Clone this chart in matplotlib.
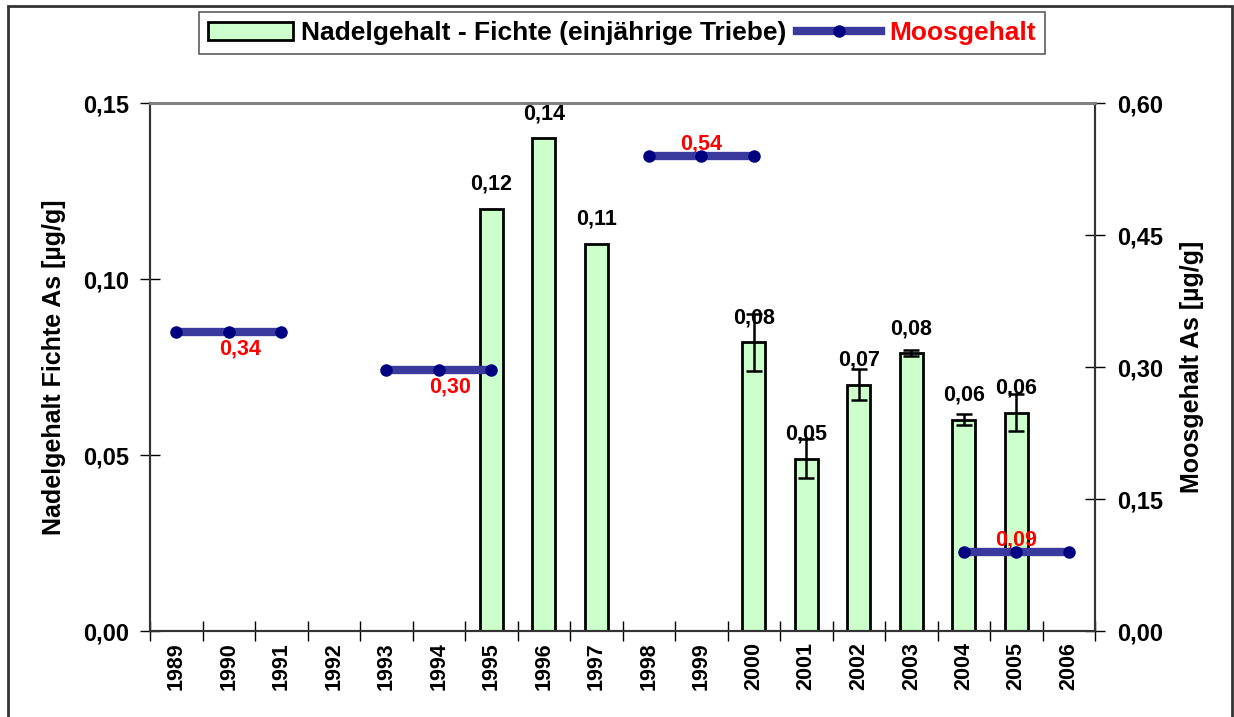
import numpy as np
import matplotlib
matplotlib.use('Agg')
import matplotlib.pyplot as plt
from matplotlib.patches import Rectangle, Patch
from matplotlib.lines import Line2D

plt.rcParams['font.family'] = ['Liberation Sans', 'DejaVu Sans']
plt.rcParams['font.weight'] = 'bold'

# data
years = [str(y) for y in range(1989, 2007)]
needle_years = ['1995', '1996', '1997', '2000', '2001', '2002', '2003', '2004', '2005']
needle_values = [0.120, 0.140, 0.110, 0.082, 0.049, 0.070, 0.079, 0.060, 0.062]
needle_err = [0.0, 0.0, 0.0, 0.008, 0.0055, 0.0043, 0.0008, 0.0016, 0.0052]
needle_labels = ['0,12', '0,14', '0,11', '0,08', '0,05', '0,07', '0,08', '0,06', '0,06']

moss_periods = [['1989', '1990', '1991'], ['1993', '1994', '1995'],
                ['1998', '1999', '2000'], ['2004', '2005', '2006']]
moss_values = [0.34, 0.297, 0.54, 0.09]
moss_labels = ['0,34', '0,30', '0,54', '0,09']
moss_label_below = [True, True, False, False]

fig = plt.figure(figsize=(12.34, 7.17), dpi=100)
ax = fig.add_axes([150 / 1234, 1 - 631 / 717, 945 / 1234, 528 / 717])
ax2 = ax.twinx()

# outer frame of the picture
fig.patches.append(Rectangle((8 / 1234, -0.05), 1224 / 1234, 1 - 5.5 / 717 + 0.05,
                             transform=fig.transFigure, fill=False,
                             edgecolor='#333333', linewidth=2, zorder=0))

idx = {y: i for i, y in enumerate(years)}
xb = np.array([idx[y] for y in needle_years])
ax.bar(xb, needle_values, width=0.44, color='#CCFFCC', edgecolor='black', linewidth=2, zorder=2)
errx = [x for x, e in zip(xb, needle_err) if e > 0]
erry = [v for v, e in zip(needle_values, needle_err) if e > 0]
erre = [e for e in needle_err if e > 0]
ax.errorbar(errx, erry, yerr=erre, fmt='none', ecolor='black', elinewidth=1.8,
            capsize=6, capthick=1.8, zorder=3)
for x, v, t in zip(xb, needle_values, needle_labels):
    ax.annotate(t, (x, v), xytext=(0, 10), textcoords='offset points', ha='center',
                va='bottom', fontsize=15.5, fontweight='bold', zorder=5)

for per, v, t, below in zip(moss_periods, moss_values, moss_labels, moss_label_below):
    xs = [idx[y] for y in per]
    ax2.plot(xs, [v] * len(xs), color='#3A3A9E', linewidth=6, solid_capstyle='butt',
             marker='o', markersize=8, markerfacecolor='#000080',
             markeredgecolor='#000080', zorder=4)
    if below:
        ax2.annotate(t, (xs[1], v), xytext=(8, -5), textcoords='offset points',
                     ha='center', va='top', color='red', fontsize=15.5, fontweight='bold')
    else:
        ax2.annotate(t, (xs[1], v), xytext=(0, 1), textcoords='offset points',
                     ha='center', va='bottom', color='red', fontsize=15.5, fontweight='bold')

ax.set_xlim(-0.5, len(years) - 0.5)
ax.set_ylim(0, 0.15)
ax2.set_ylim(0, 0.60)
ax.set_zorder(ax2.get_zorder() - 1)
ax.patch.set_visible(False)

ax.set_yticks([0, 0.05, 0.10, 0.15])
ax.set_yticklabels(['0,00', '0,05', '0,10', '0,15'], fontsize=17, fontweight='bold')
ax2.set_yticks([0, 0.15, 0.30, 0.45, 0.60])
ax2.set_yticklabels(['0,00', '0,15', '0,30', '0,45', '0,60'], fontsize=17, fontweight='bold')
ax.tick_params(axis='y', direction='inout', length=14, width=1, pad=8)
ax2.tick_params(axis='y', direction='inout', length=14, width=1, pad=9)

ax.set_xticks(np.arange(len(years) + 1) - 0.5)
ax.set_xticklabels([])
ax.set_xticks(np.arange(len(years)), minor=True)
ax.set_xticklabels(years, minor=True, rotation=90, fontsize=15.5, fontweight='bold')
ax.tick_params(axis='x', which='major', direction='inout', length=14, width=1)
ax.tick_params(axis='x', which='minor', length=0, pad=8)

ax.set_ylabel('Nadelgehalt Fichte As [µg/g]', fontsize=18, fontweight='bold', labelpad=12)
ax2.set_ylabel('Moosgehalt As [µg/g]', fontsize=18, fontweight='bold', labelpad=12)

for a in (ax, ax2):
    a.spines['top'].set_color('#808080')
    a.spines['top'].set_linewidth(2)
    a.spines['left'].set_color('#333333')
    a.spines['right'].set_color('#333333')
    a.spines['bottom'].set_color('#333333')
    a.spines['left'].set_linewidth(1.5)
    a.spines['right'].set_linewidth(1.5)
    a.spines['bottom'].set_linewidth(1.5)

handles = [Patch(facecolor='#CCFFCC', edgecolor='black', linewidth=2),
           Line2D([], [], color='#3A3A9E', linewidth=6, marker='o', markersize=8,
                  markerfacecolor='#000080', markeredgecolor='#000080')]
leg = fig.legend(handles, ['Nadelgehalt - Fichte (einjährige Triebe)', 'Moosgehalt'],
                 loc='center', bbox_to_anchor=(622 / 1234, 1 - 33 / 717), ncol=2,
                 frameon=True, fancybox=False, edgecolor='#333333', handlelength=3.2,
                 handletextpad=0.3, columnspacing=0.4, borderpad=0.35,
                 prop={'family': ['Liberation Sans'], 'weight': 'bold', 'size': 19})
leg.get_frame().set_linewidth(1.2)
leg.get_texts()[1].set_color('red')

fig.savefig('out.png', dpi=100)
